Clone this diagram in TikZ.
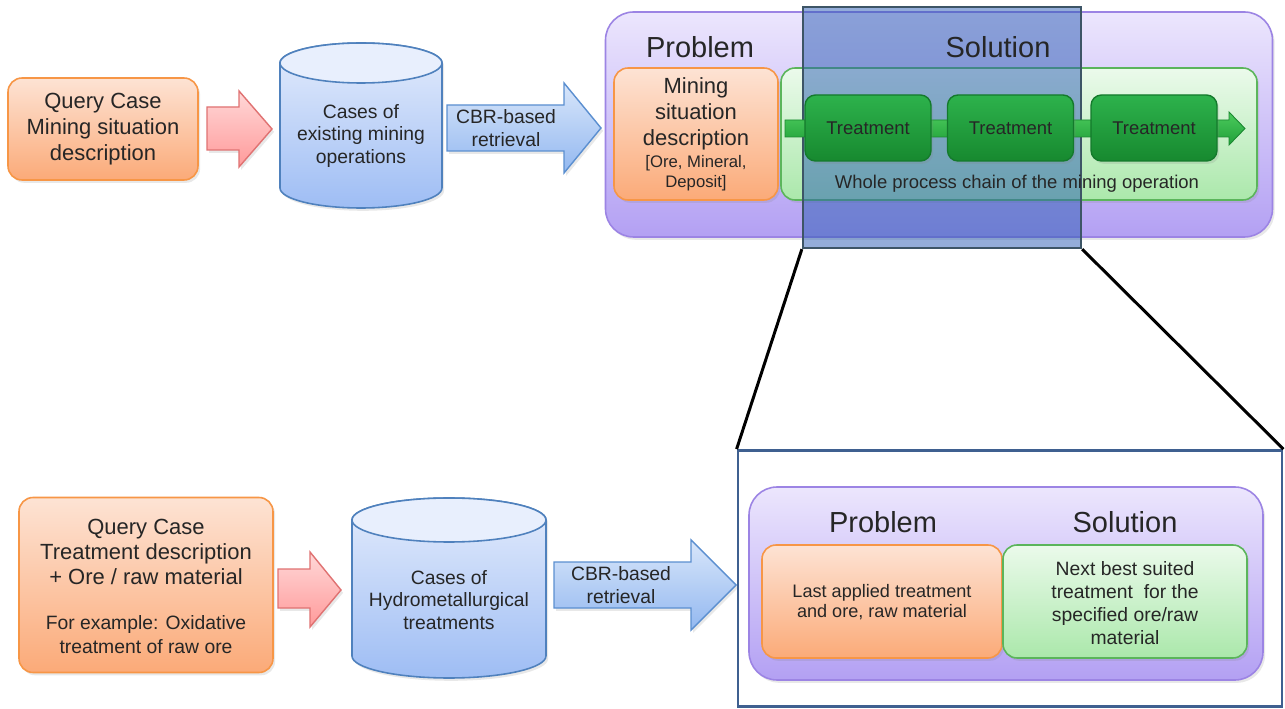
\documentclass[tikz,border=0pt]{standalone}
\usepackage{fontspec}
\setmainfont{Liberation Sans}
\usetikzlibrary{shadows}
\definecolor{txt}{HTML}{262626}
\definecolor{orD}{HTML}{F79646}\definecolor{orT}{HTML}{FDE3D4}\definecolor{orB}{HTML}{FBAA78}
\definecolor{cyD}{HTML}{4F81BD}\definecolor{cyT}{HTML}{E4ECFC}\definecolor{cyB}{HTML}{9EBDF4}\definecolor{cyL}{HTML}{E8EFFD}
\definecolor{pkD}{HTML}{E07272}\definecolor{pkT}{HTML}{FFD8D8}\definecolor{pkB}{HTML}{FF9A9A}
\definecolor{blD}{HTML}{5B8FD0}\definecolor{blT}{HTML}{D8E6FA}\definecolor{blB}{HTML}{93B8F0}
\definecolor{puD}{HTML}{9C84E4}\definecolor{puT}{HTML}{ECE6FD}\definecolor{puB}{HTML}{B3A0F3}
\definecolor{glD}{HTML}{5BB55B}\definecolor{glT}{HTML}{EBFAEB}\definecolor{glB}{HTML}{ABE8AB}
\definecolor{tgD}{HTML}{147A2C}\definecolor{tgT}{HTML}{2DB24C}\definecolor{tgB}{HTML}{17892F}
\definecolor{gaT}{HTML}{4CCB5C}\definecolor{gaB}{HTML}{20A03A}
\definecolor{ovF}{HTML}{2A5CB4}\definecolor{ovD}{HTML}{3D5566}
\definecolor{frm}{HTML}{3F6090}
\newcommand\fBig{\fontsize{16.5}{19}\selectfont}
\newcommand\fA{\fontsize{12.5}{14.7}\selectfont}
\newcommand\fB{\fontsize{11}{13}\selectfont}
\newcommand\fC{\fontsize{10.5}{12}\selectfont}
\newcommand\fD{\fontsize{9.5}{11.3}\selectfont}
\tikzset{
  shad/.style={drop shadow={opacity=0.18, shadow xshift=1.2pt, shadow yshift=-1.6pt}},
  orbox/.style={draw=orD, line width=0.9pt, top color=orT, bottom color=orB, rounded corners=8pt, shad},
  pubox/.style={draw=puD, line width=0.9pt, top color=puT, bottom color=puB, rounded corners=16pt, shad},
  glbox/.style={draw=glD, line width=0.9pt, top color=glT, bottom color=glB, rounded corners=8pt, shad},
  tgbox/.style={draw=tgD, line width=0.8pt, top color=tgT, bottom color=tgB, rounded corners=6pt, shad},
  pkarrow/.style={draw=pkD, line width=0.8pt, top color=pkT, bottom color=pkB, shad},
  blarrow/.style={draw=blD, line width=0.8pt, top color=blT, bottom color=blB, shad},
  garrow/.style={draw=gaB!85!black, line width=0.5pt, top color=gaT, bottom color=gaB},
  cylbody/.style={draw=cyD, line width=0.9pt, top color=cyT, bottom color=cyB, shad},
  cyltop/.style={draw=cyD, line width=0.9pt, fill=cyL},
  zoomline/.style={draw=black, line width=1.7pt},
}
\begin{document}
\begin{tikzpicture}[x=0.02cm,y=-0.02cm, every node/.style={text=txt, align=center, inner sep=0pt}]
\useasboundingbox (0,0) rectangle (1285,709);
\fill[white] (0,0) rectangle (1285,709);

% ---------- top row ----------
\node[orbox, minimum width=190*0.02cm, minimum height=102*0.02cm] (q1) at (103,129) {};
\node[font=\fA] (q1t) at (103,129) {Query Case\\Mining situation\\description};

\path[pkarrow] (207,107) -- (239,107) -- (239,91) -- (272,129) -- (239,167) -- (239,150) -- (207,150) -- cycle;

% cylinder 1
\path[cylbody] (280,63) -- (280,188) arc[start angle=180, end angle=360, x radius=1.62cm, y radius=0.4cm]
  -- (442,63) arc[start angle=0, end angle=180, x radius=1.62cm, y radius=0.4cm] -- cycle;
\path[cyltop] (361,63) ellipse[x radius=1.62cm, y radius=0.4cm];
\node[font=\fB] (c1) at (361,136) {Cases of\\existing mining\\operations};

\path[blarrow] (447,105) -- (564,105) -- (564,83) -- (601,128) -- (564,173) -- (564,151) -- (447,151) -- cycle;
\node[font=\fB] (r1) at (506,128.5) {CBR-based\\retrieval};

% big case box
\node[pubox, minimum width=667*0.02cm, minimum height=225*0.02cm] (case1) at (939,124.5) {};
\node[orbox, minimum width=164*0.02cm, minimum height=132*0.02cm] (mb) at (696,134) {};
\node[glbox, minimum width=476*0.02cm, minimum height=132*0.02cm] (chain) at (1019,134) {};

% overlay (drawn under the treatment chain)
\node[draw=ovD, line width=1.3pt, fill=ovF, fill opacity=0.5, minimum width=278*0.02cm, minimum height=241*0.02cm] (zoom) at (942,127.5) {};

\node[font=\fBig] (p1) at (700,47) {Problem};
\node[font=\fBig] (s1) at (998,47) {Solution};
\node[font=\fA] (mbt) at (696,114) {Mining\\situation\\description};
\node[font=\fD] (mbs) at (696,173) {[Ore, Mineral,\\Deposit]};
\path[garrow] (785,120) -- (1229,120) -- (1229,112) -- (1245,128.5) -- (1229,145) -- (1229,137) -- (785,137) -- cycle;
\node[tgbox, minimum width=126*0.02cm, minimum height=66*0.02cm] (t1) at (868,128) {};
\node[tgbox, minimum width=126*0.02cm, minimum height=66*0.02cm] (t2) at (1010.5,128) {};
\node[tgbox, minimum width=126*0.02cm, minimum height=66*0.02cm] (t3) at (1154,128) {};
\node[font=\fC, text=black!85] (t1t) at (t1) {Treatment};
\node[font=\fC, text=black!85] (t2t) at (t2) {Treatment};
\node[font=\fC, text=black!85] (t3t) at (t3) {Treatment};
\node[font=\fC] (wp) at (1017,184) {Whole process chain of the mining operation};

% ---------- bottom row ----------
\node[orbox, minimum width=254*0.02cm, minimum height=175*0.02cm] (q2) at (146,585) {};
\node[font=\fontsize{12.5}{14.4}\selectfont] (q2a) at (146,552) {Query Case\\Treatment description\\+ Ore / raw material};
\node[font=\fontsize{11}{13.6}\selectfont] (q2b) at (146,635) {For example: Oxidative\\treatment of raw ore};

\path[pkarrow] (278,569) -- (310,569) -- (310,552) -- (341,590) -- (310,627) -- (310,608) -- (278,608) -- cycle;

\path[cylbody] (352,520) -- (352,656) arc[start angle=180, end angle=360, x radius=1.94cm, y radius=0.44cm]
  -- (546,520) arc[start angle=0, end angle=180, x radius=1.94cm, y radius=0.44cm] -- cycle;
\path[cyltop] (449,520) ellipse[x radius=1.94cm, y radius=0.44cm];
\node[font=\fB] (c2) at (449,600) {Cases of\\Hydrometallurgical\\treatments};

\path[blarrow] (554,562) -- (691,562) -- (691,540) -- (736,585) -- (691,630) -- (691,608) -- (554,608) -- cycle;
\node[font=\fB] (r2) at (621,585) {CBR-based\\retrieval};

% zoom frame
\node[draw=frm, line width=1.6pt, minimum width=544*0.02cm, minimum height=256*0.02cm] (frame) at (1010,578.5) {};
\node[pubox, minimum width=514*0.02cm, minimum height=193*0.02cm] (case2) at (1006,583.5) {};
\node[font=\fBig] (p2) at (883,522) {Problem};
\node[font=\fBig] (s2) at (1125,522) {Solution};
\node[orbox, minimum width=240*0.02cm, minimum height=113*0.02cm] (lp) at (882,601.5) {};
\node[font=\fontsize{10.3}{11.6}\selectfont] (lpt) at (882,602) {Last applied treatment\\and ore, raw material};
\node[glbox, minimum width=244*0.02cm, minimum height=113*0.02cm] (ns) at (1125,601.5) {};
\node[font=\fontsize{11}{13.2}\selectfont] (nst) at (1125,603) {Next best suited\\treatment\ \ for the\\specified ore/raw\\material};

% zoom lines
\draw[zoomline] (zoom.south west) -- (frame.north west);
\draw[zoomline] (zoom.south east) -- (frame.north east);
\end{tikzpicture}
\end{document}
